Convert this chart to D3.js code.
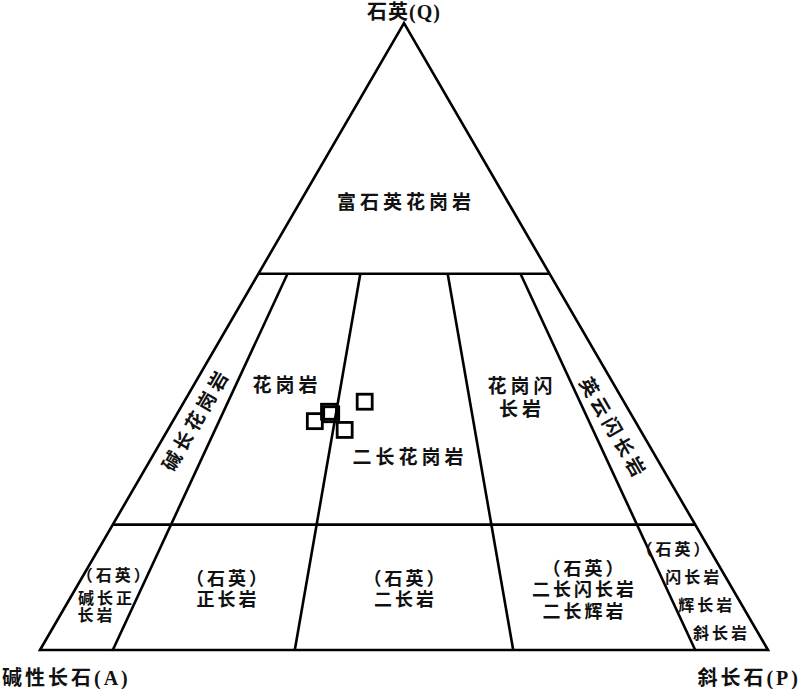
<!DOCTYPE html>
<html>
<head>
<meta charset="utf-8">
<script src="https://cdn.jsdelivr.net/npm/d3@7"></script>
<style>
body { margin: 0; background: #fff; }
text { font-family: "Liberation Serif", "Noto Sans CJK SC", serif; fill: #111; }
</style>
</head>
<body>
<svg id="chart" width="800" height="689"></svg>
<script>
// QAP classification boundaries (percent)
var qLevels = [60, 20];          // horizontal Q limits
var pRatios = [10, 35, 65, 90];  // P/(A+P) limits, drawn from Q=0 up to Q=60

// samples (Q, A, P in %)
var sampleQ = [36.5, 38.0, 37.6, 35.1, 39.6];
var sampleA = [44.0, 41.3, 41.2, 40.6, 35.6];
var sampleP = [19.5, 20.7, 21.2, 24.3, 24.8];

var cornerNames = ["石英(Q)", "碱性长石(A)", "斜长石(P)"];

// field names and where they sit, as [Q, P/(A+P)]
var fieldNames = ["富石英花岗岩", "碱长花岗岩", "花岗岩", "花岗闪\n长岩", "二长花岗岩", "英云闪长岩",
    "（石英）\n正长岩", "（石英）\n二长岩", "（石英）\n二长闪长岩\n二长辉岩",
    "（石英）", "碱长正", "长岩", "（石英）", "闪长岩", "辉长岩", "斜长岩"];
var fieldQ = [71.5, 36.5, 42.3, 40.3, 30.8, 35.6, 9.7, 9.7, 9.6, 12.0, 8.3, 5.6, 16.0, 11.6, 7.2, 2.7];
var fieldR = [50, 4.8, 21.7, 76.7, 50.8, 94.4, 23, 50, 77.2, 4.6, 5.2, 5.05, 94.0, 94.8, 94.6, 94.6];

var W = 800, H = 689;
var svg = d3.select("#chart");

var x = d3.scaleLinear().domain([0, 100]).range([40, 768]);
var y = d3.scaleLinear().domain([0, 100]).range([650, 23]);

// q = quartz %, r = P/(A+P) %
function proj(q, r) {
    var p = (100 - q) * r / 100;
    return [x(p + q / 2), y(q)];
}

var line = d3.line();

var g = svg.append("g")
    .attr("fill", "none")
    .attr("stroke", "#000")
    .attr("stroke-width", 2.6)
    .attr("stroke-linejoin", "miter");

// outline
g.append("path")
    .attr("d", line([proj(0, 0), proj(100, 0), proj(0, 100)]) + "Z");

g.selectAll("path.q")
    .data(qLevels)
    .enter().append("path")
    .attr("class", "q")
    .attr("d", function(d) { return line([proj(d, 0), proj(d, 100)]); });

g.selectAll("path.r")
    .data(pRatios)
    .enter().append("path")
    .attr("class", "r")
    .attr("d", function(d) { return line([proj(0, d), proj(qLevels[0], d)]); });

// field labels
function fieldStyle(i) {
    if (i <= 5) return {size: 19, ls: 4, lh: 23, rot: i == 1 ? -60 : (i == 5 ? 60 : 0)};
    if (i <= 8) return {size: 18, ls: 3, lh: 21.5, rot: 0};
    return {size: 16, ls: 3, lh: 19, rot: 0};
}

fieldNames.forEach(function(name, i) {
    var st = fieldStyle(i);
    var pt = proj(fieldQ[i], fieldR[i]);
    var lines = name.split("\n");
    var t = svg.append("text")
        .attr("transform", "translate(" + pt[0] + "," + pt[1] + ") rotate(" + st.rot + ")")
        .attr("text-anchor", "middle")
        .attr("font-size", st.size)
        .attr("font-weight", "bold")
        .attr("letter-spacing", st.ls);
    lines.forEach(function(l, j) {
        t.append("tspan")
            .attr("x", st.ls / 2)
            .attr("y", (j - (lines.length - 1) / 2) * st.lh)
            .attr("dy", "0.36em")
            .text(l);
    });
});

// corner labels
var apex = proj(100, 0), cA = proj(0, 0), cP = proj(0, 100);
svg.append("text")
    .attr("x", apex[0]).attr("y", 19)
    .attr("text-anchor", "middle")
    .attr("font-size", 20).attr("font-weight", "bold")
    .attr("letter-spacing", 1)
    .text(cornerNames[0]);
svg.append("text")
    .attr("x", cA[0] - 38).attr("y", 685)
    .attr("text-anchor", "start")
    .attr("font-size", 20).attr("font-weight", "bold")
    .attr("letter-spacing", 3)
    .text(cornerNames[1]);
svg.append("text")
    .attr("x", cP[0] + 33).attr("y", 685)
    .attr("text-anchor", "end")
    .attr("font-size", 20).attr("font-weight", "bold")
    .attr("letter-spacing", 3)
    .text(cornerNames[2]);

// samples
var samples = sampleQ.map(function(q, i) {
    return proj(q, sampleP[i] / (sampleA[i] + sampleP[i]) * 100);
});
svg.selectAll("rect.s")
    .data(samples)
    .enter().append("rect")
    .attr("class", "s")
    .attr("x", function(d) { return d[0] - 7.5; })
    .attr("y", function(d) { return d[1] - 7.5; })
    .attr("width", 15).attr("height", 15)
    .attr("fill", "none")
    .attr("stroke", "#000")
    .attr("stroke-width", 2.8);
</script>
</body>
</html>
